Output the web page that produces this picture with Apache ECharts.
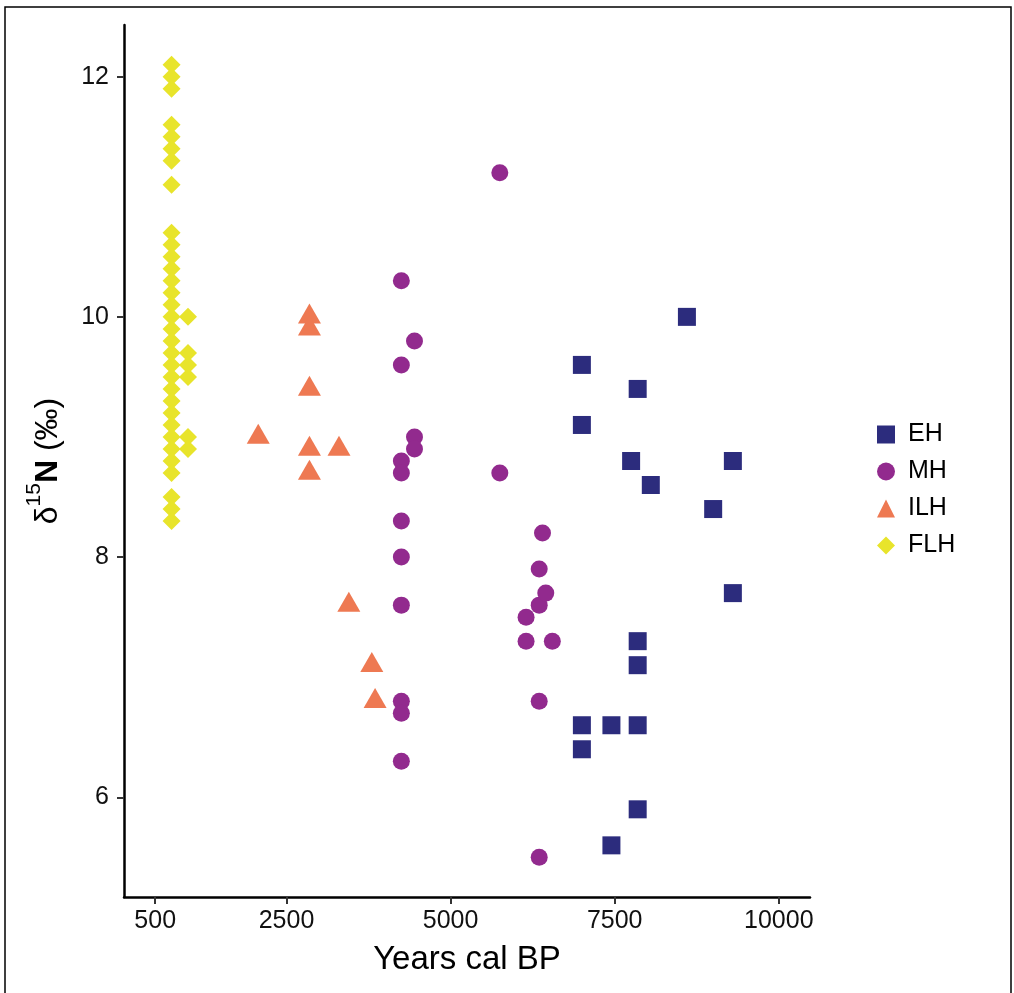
<!DOCTYPE html>
<html>
<head>
<meta charset="utf-8">
<script src="https://cdn.jsdelivr.net/npm/echarts@6/dist/echarts.min.js"></script>
<style>
  html, body { margin: 0; padding: 0; background: #ffffff; }
  #chart { width: 1014px; height: 993px; }
</style>
</head>
<body>
<div id="chart"></div>
<script>
// Nitrogen isotope values (δ15N, ‰) by age (years cal BP) for four periods
const periods = ['EH', 'MH', 'ILH', 'FLH'];

const ehYears = [7000, 7000, 8600, 7850, 7750, 8050, 9300, 9000, 9300, 7850, 7850, 7000, 7450, 7850, 7000, 7850, 7450];
const ehD15N  = [9.6, 9.1, 10.0, 9.4, 8.8, 8.6, 8.8, 8.4, 7.7, 7.3, 7.1, 6.6, 6.6, 6.6, 6.4, 5.9, 5.6];

const mhYears = [4250, 4250, 4250, 4250, 4250, 4250, 4250, 4250, 4250, 4250,
                 4450, 4450, 4450, 5750, 5750, 6400, 6350, 6350, 6350, 6350,
                 6450, 6150, 6150, 6550];
const mhD15N  = [10.3, 9.6, 8.8, 8.7, 8.3, 8.0, 7.6, 6.8, 6.7, 6.3,
                 9.8, 9.0, 8.9, 11.2, 8.7, 8.2, 7.9, 7.6, 6.8, 5.5,
                 7.7, 7.5, 7.3, 7.3];

const ilhYears = [2070, 2850, 2850, 2850, 2850, 3300, 2850, 3450, 3800, 3850];
const ilhD15N  = [9.0, 10.0, 9.9, 9.4, 8.9, 8.9, 8.7, 7.6, 7.1, 6.8];

const flhYears = [750, 750, 750, 750, 750, 750, 750, 750,
                  750, 750, 750, 750, 750, 750, 750, 750, 750, 750, 750, 750, 750,
                  750, 750, 750, 750, 750, 750, 750, 750, 750, 750, 750,
                  1000, 1000, 1000, 1000, 1000, 1000];
const flhD15N  = [12.1, 12.0, 11.9, 11.6, 11.5, 11.4, 11.3, 11.1,
                  10.7, 10.6, 10.5, 10.4, 10.3, 10.2, 10.1, 10.0, 9.9, 9.8, 9.7, 9.6, 9.5,
                  9.4, 9.3, 9.2, 9.1, 9.0, 8.9, 8.8, 8.7, 8.5, 8.4, 8.3,
                  10.0, 9.7, 9.6, 9.5, 9.0, 8.9];

const xTicks = [500, 2500, 5000, 7500, 10000];
const yTicks = [6, 8, 10, 12];

const colors = { EH: '#2C2C7D', MH: '#922A8E', ILH: '#EE7952', FLH: '#E8E42B' };

function pairs(xs, ys) { return xs.map((x, i) => [x, ys[i]]); }

const FONT = '"Liberation Sans", Arial, Helvetica, sans-serif';
const chart = echarts.init(document.getElementById('chart'), null, { renderer: 'canvas' });

const axisLine = { show: true, onZero: false, lineStyle: { color: '#000', width: 2.5 } };
const axisTick = { show: true, length: 7, lineStyle: { color: '#333', width: 2 } };
const plainNumber = v => String(Math.round(v));

chart.setOption({
  backgroundColor: '#ffffff',
  animation: false,
  textStyle: { fontFamily: FONT },
  grid: { left: 124, right: 204, top: 25, bottom: 96, outerBoundsMode: 'none' },
  xAxis: {
    type: 'value',
    min: 25,
    max: 10475,
    axisLine: axisLine,
    axisTick: Object.assign({ customValues: xTicks }, axisTick),
    axisLabel: { customValues: xTicks, formatter: plainNumber, fontSize: 25, color: '#111', margin: 12, fontFamily: FONT },
    splitLine: { show: false },
    name: 'Years cal BP',
    nameLocation: 'middle',
    nameGap: 46,
    nameTextStyle: { fontSize: 33, color: '#000', fontFamily: FONT }
  },
  yAxis: {
    type: 'value',
    min: 5.17,
    max: 12.43,
    axisLine: axisLine,
    axisTick: Object.assign({ customValues: yTicks }, axisTick),
    axisLabel: { customValues: yTicks, formatter: plainNumber, fontSize: 25, color: '#111', margin: 15, fontFamily: FONT },
    splitLine: { show: false },
    name: '{d|δ}{s|15}{n|N}{d| (‰)}',
    nameLocation: 'middle',
    nameRotate: 90,
    nameGap: 60,
    nameTextStyle: {
      color: '#000',
      fontFamily: FONT,
      rich: {
        d: { fontSize: 32, color: '#000', fontFamily: FONT, lineHeight: 40, verticalAlign: 'bottom' },
        s: { fontSize: 21, color: '#000', fontFamily: FONT, lineHeight: 40, verticalAlign: 'top' },
        n: { fontSize: 32, fontWeight: 'bold', color: '#000', fontFamily: FONT, lineHeight: 40, verticalAlign: 'bottom' }
      }
    }
  },
  legend: {
    orient: 'vertical',
    left: 872,
    top: 417,
    itemWidth: 18,
    itemHeight: 18,
    itemGap: 12,
    data: periods,
    textStyle: { fontSize: 25, color: '#000', lineHeight: 25, padding: [0, 0, 0, 8], fontFamily: FONT }
  },
  series: [
    { name: 'EH', type: 'scatter', symbol: 'rect', symbolSize: 18,
      itemStyle: { color: colors.EH, opacity: 1 }, data: pairs(ehYears, ehD15N) },
    { name: 'MH', type: 'scatter', symbol: 'circle', symbolSize: 17,
      itemStyle: { color: colors.MH, opacity: 1 }, data: pairs(mhYears, mhD15N) },
    { name: 'ILH', type: 'scatter', symbol: 'triangle', symbolSize: [23, 20], symbolOffset: [0, -3.3],
      itemStyle: { color: colors.ILH, opacity: 1 }, data: pairs(ilhYears, ilhD15N) },
    { name: 'FLH', type: 'scatter', symbol: 'diamond', symbolSize: 18,
      itemStyle: { color: colors.FLH, opacity: 1 }, data: pairs(flhYears, flhD15N) }
  ],
  graphic: [{
    type: 'rect',
    silent: true,
    shape: { x: 5, y: 7, width: 1006, height: 1000 },
    style: { fill: 'none', stroke: '#000', lineWidth: 1.5 }
  }]
});
</script>
</body>
</html>
